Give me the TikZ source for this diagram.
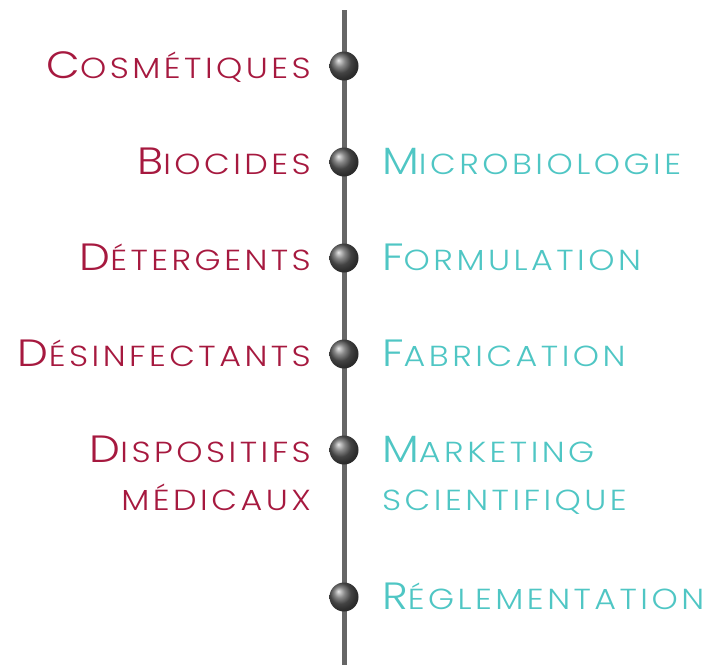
\documentclass[tikz,border=0pt]{standalone}
\usepackage{fontspec}
\setmainfont{Poppins Light}[LetterSpace=12,FakeStretch=1.15]
\definecolor{lred}{HTML}{A6193F}
\definecolor{lteal}{HTML}{4FC6C4}
\newcommand{\scw}[2]{{\fontsize{38}{38}\selectfont #1}{\fontsize{29}{29}\selectfont #2}}
\newcommand{\scs}[1]{{\fontsize{29}{29}\selectfont #1}}
\begin{document}
\begin{tikzpicture}[x=1pt,y=1pt,
  lefttxt/.style={anchor=base east,inner sep=0pt,text=lred},
  righttxt/.style={anchor=base west,inner sep=0pt,text=lteal},
  bead/.style={circle,minimum size=29pt,inner sep=0pt,shading=ball,ball color=gray!75!black}]
\useasboundingbox (0,0) rectangle (710,-665);
\coordinate (top) at (344,-10);
\coordinate (bot) at (344,-665);
\draw[line width=5pt,color=gray!80!black] (top) -- (bot);
\node[bead] (b1) at (344,-66) {};
\node[bead] (b2) at (344,-162) {};
\node[bead] (b3) at (344,-258) {};
\node[bead] (b4) at (344,-354) {};
\node[bead] (b5) at (344,-450) {};
\node[bead] (b6) at (344,-597) {};
\node[lefttxt] (l1) at (311,-78) {\scw{C}{OSMÉTIQUES}};
\node[lefttxt] (l2) at (311,-174) {\scw{B}{IOCIDES}};
\node[lefttxt] (l3) at (311,-270) {\scw{D}{ÉTERGENTS}};
\node[lefttxt] (l4) at (311,-366) {\scw{D}{ÉSINFECTANTS}};
\node[lefttxt] (l5) at (311,-462) {\scw{D}{ISPOSITIFS}};
\node[lefttxt] (l5b) at (311,-510) {\scs{MÉDICAUX}};
\node[righttxt] (r2) at (382,-174) {\scw{M}{ICROBIOLOGIE}};
\node[righttxt] (r3) at (382,-270) {\scw{F}{ORMULATION}};
\node[righttxt] (r4) at (382,-366) {\scw{F}{ABRICATION}};
\node[righttxt] (r5) at (382,-462) {\scw{M}{ARKETING}};
\node[righttxt] (r5b) at (382,-510) {\scs{SCIENTIFIQUE}};
\node[righttxt] (r6) at (382,-609) {\scw{R}{ÉGLEMENTATION}};
\end{tikzpicture}
\end{document}
